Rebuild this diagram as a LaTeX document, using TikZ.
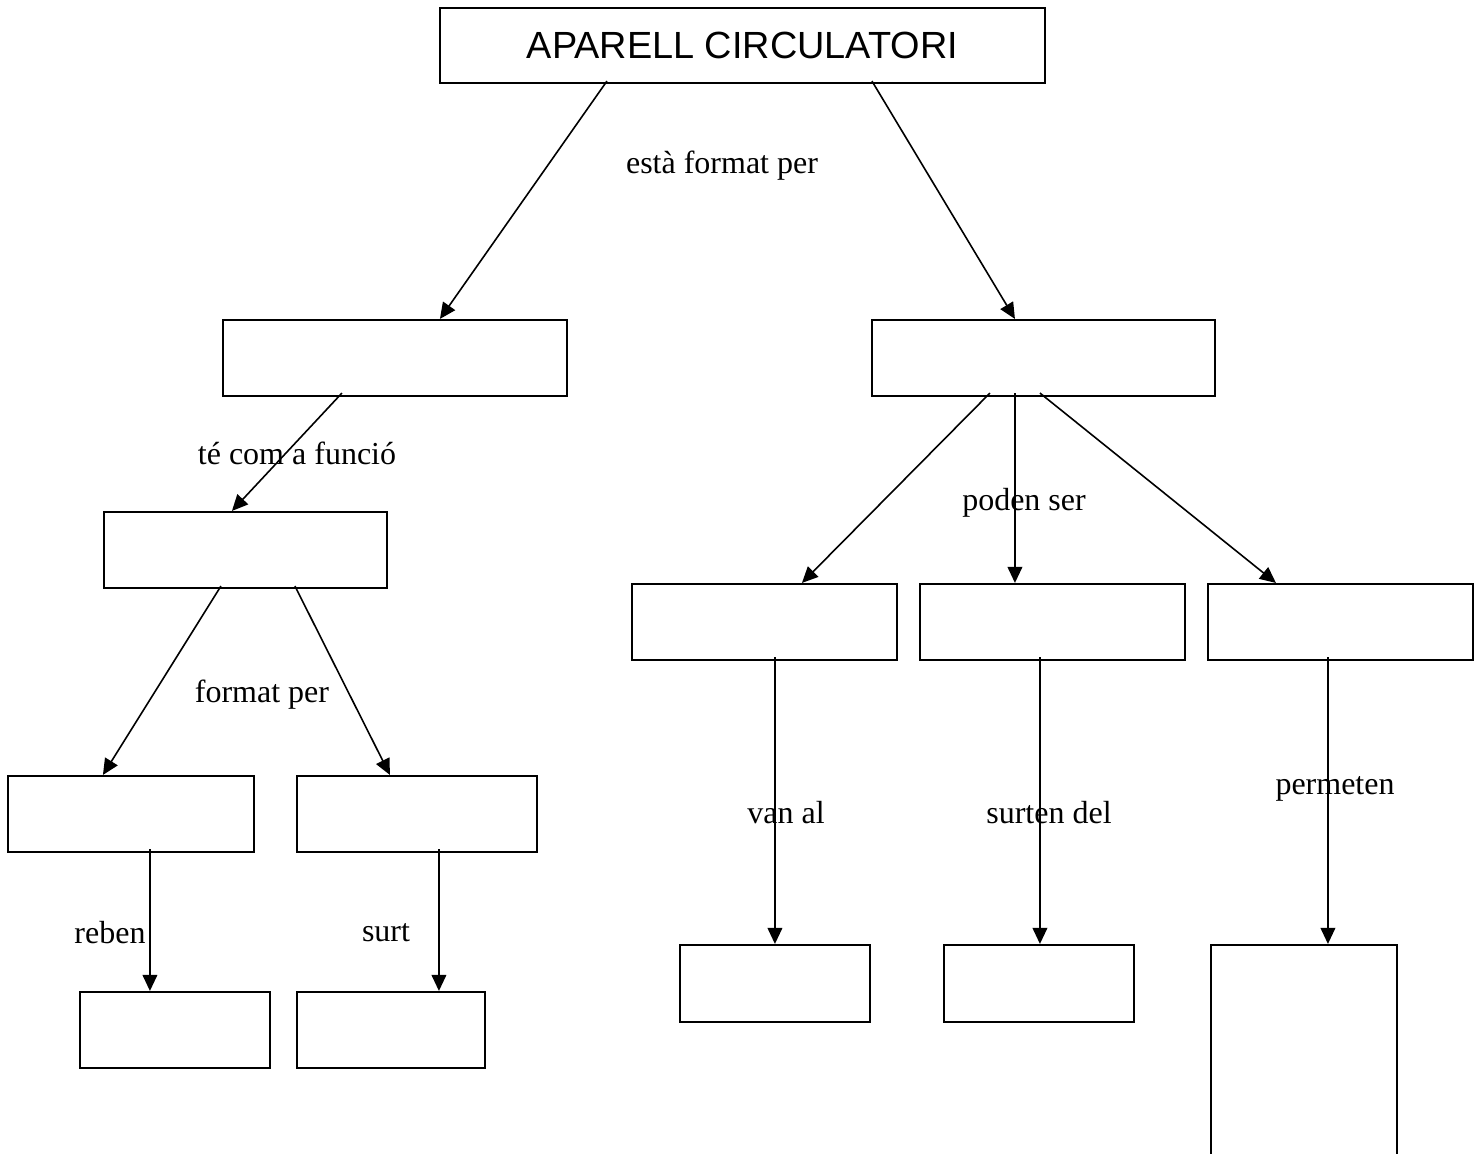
\documentclass[tikz,border=0pt]{standalone}
\usepackage{fontspec}
\setmainfont{Liberation Serif}
\newfontfamily\titlefont{Liberation Sans}
\usetikzlibrary{calc, arrows.meta}

\tikzset{
  conceptbox/.style 2 args={draw, line width=0.8pt, inner sep=0pt,
    minimum width=#1*0.375pt, minimum height=#2*0.375pt},
  link/.style={line width=0.6pt, -{Triangle[length=6pt,width=5.5pt]}},
  linklabel/.style={inner sep=0pt, font=\fontsize{12pt}{14pt}\selectfont}
}

\begin{document}
\begin{tikzpicture}[x=0.375pt, y=-0.375pt]
        \useasboundingbox (0,0) rectangle (1482,1153);
        \clip (0,0) rectangle (1482,1153);

        % boxes
        \node[conceptbox={605}{75}] (aparell) at (742.5,45.5) {\titlefont\fontsize{14.2pt}{16pt}\selectfont APARELL CIRCULATORI};

        \node[conceptbox={344}{76}] (esqA) at (395,358) {};
        \node[conceptbox={343}{76}] (dreA) at (1043.5,358) {};

        \node[conceptbox={283}{76}] (esqB) at (245.5,550) {};
        \node[conceptbox={246}{76}] (esqC1) at (131,814) {};
        \node[conceptbox={240}{76}] (esqC2) at (417,814) {};
        \node[conceptbox={190}{76}] (esqD1) at (175,1030) {};
        \node[conceptbox={188}{76}] (esqD2) at (391,1030) {};

        \node[conceptbox={265}{76}] (dreB1) at (764.5,622) {};
        \node[conceptbox={265}{76}] (dreB2) at (1052.5,622) {};
        \node[conceptbox={265}{76}] (dreB3) at (1340.5,622) {};
        \node[conceptbox={190}{77}] (dreC1) at (775,983.5) {};
        \node[conceptbox={190}{77}] (dreC2) at (1039,983.5) {};
        \node[conceptbox={186}{230}] (dreC3) at (1304,1060) {};

        % labels
        \node[linklabel] (lblEsta) at (722,166) {està format per};
        \node[linklabel] (lblFuncio) at (297,453) {té com a funció};
        \node[linklabel] (lblFormat) at (262,695) {format per};
        \node[linklabel] (lblReben) at (110,933) {reben};
        \node[linklabel] (lblSurt) at (386,933) {surt};
        \node[linklabel] (lblPoden) at (1024,503) {poden ser};
        \node[linklabel] (lblVan) at (786,813) {van al};
        \node[linklabel] (lblSurten) at (1049,813) {surten del};
        \node[linklabel] (lblPermeten) at (1335,789) {permeten};

        % connectors
        \draw[link] ($(aparell.south west)+(168,-3)$) -- ($(esqA.north west)+(218,0)$);
        \draw[link] ($(aparell.south west)+(433,-3)$) -- ($(dreA.north west)+(144,0)$);

        \draw[link] ($(esqA.south west)+(120,-4)$) -- ($(esqB.north west)+(129,0)$);
        \draw[link] ($(esqB.south west)+(118,-3)$) -- ($(esqC1.north west)+(96,0)$);
        \draw[link] ($(esqB.south west)+(192,-3)$) -- ($(esqC2.north west)+(94,0)$);
        \draw[link] ($(esqC1.south west)+(143,-4)$) -- ($(esqD1.north west)+(71,0)$);
        \draw[link] ($(esqC2.south west)+(143,-4)$) -- ($(esqD2.north west)+(143,0)$);

        \draw[link] ($(dreA.south west)+(119,-4)$) -- ($(dreB1.north west)+(171,0)$);
        \draw[link] ($(dreA.south west)+(144,-4)$) -- ($(dreB2.north west)+(96,0)$);
        \draw[link] ($(dreA.south west)+(169,-4)$) -- ($(dreB3.north west)+(69,0)$);
        \draw[link] ($(dreB1.south west)+(144,-4)$) -- ($(dreC1.north west)+(96,0)$);
        \draw[link] ($(dreB2.south west)+(121,-4)$) -- ($(dreC2.north west)+(97,0)$);
        \draw[link] ($(dreB3.south west)+(121,-4)$) -- ($(dreC3.north west)+(118,0)$);
    \end{tikzpicture}
\end{document}
